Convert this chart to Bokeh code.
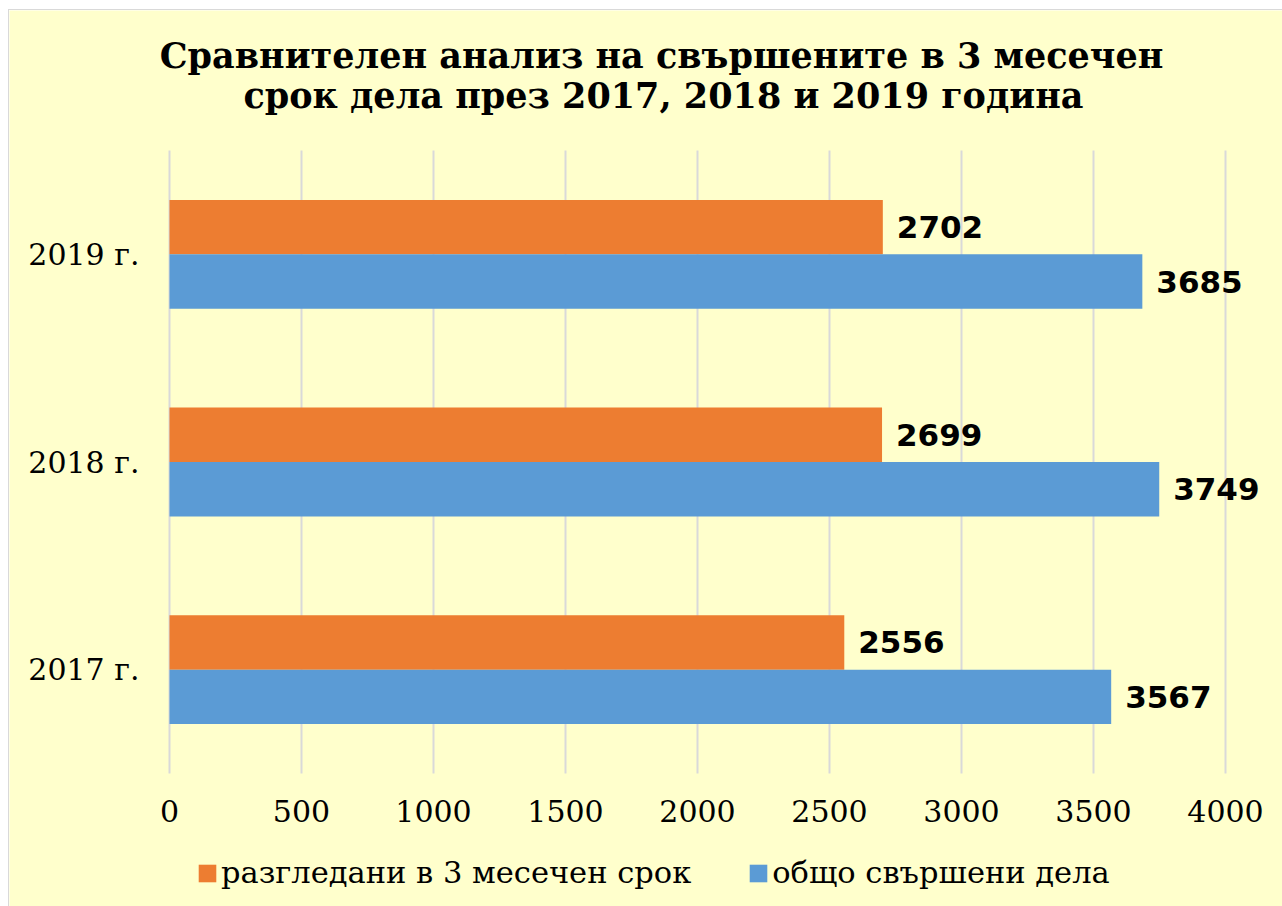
from bokeh.plotting import figure
from bokeh.models import ColumnDataSource, Range1d, FixedTicker, LabelSet, Label, Legend, LegendItem
from bokeh.transform import dodge
from bokeh.core.properties import value
from bokeh.embed import file_html
from bokeh.resources import INLINE

# ---- data ----
years = ["2017 г.", "2018 г.", "2019 г."]
reviewed = [2556, 2699, 2702]
completed = [3567, 3749, 3685]
series_labels = ["разгледани в 3 месечен срок", "общо свършени дела"]
x_ticks = [0, 500, 1000, 1500, 2000, 2500, 3000, 3500, 4000]
title_lines = ["Сравнителен анализ на свършените в 3 месечен",
               "срок дела през 2017, 2018 и 2019 година"]

ORANGE = "#ED7D31"
BLUE = "#5B9BD5"
BG = "#FFFFCC"
GRID = "#D9D9D9"
SERIF = "DejaVu Serif"

# ---- layout (page pixels) ----
PAGE_W, PAGE_H = 1282, 906
OX, OY = 9, 10                 # where the chart area starts on the page
W, H = PAGE_W - OX, PAGE_H - OY
PLOT_L = 169                   # x pixel of value 0
AXIS_END_PX = 1225             # x pixel of the last tick
PLOT_T, PLOT_B = 150, 773      # vertical extent of the bar area

n = len(years)
pos = list(range(n))
x_max = max(x_ticks)
ppx = (AXIS_END_PX - PLOT_L) / x_max
ppy = (PLOT_B - PLOT_T) / n
y_lo_band, y_hi_band = -0.5, n - 0.5


def px_to_x(px):
    return (px - PLOT_L) / ppx


def px_to_y(py):
    return y_hi_band - (py - PLOT_T) / ppy


src = ColumnDataSource(dict(
    pos=pos,
    reviewed=reviewed,
    completed=completed,
    rlab=[str(v) for v in reviewed],
    clab=[str(v) for v in completed],
))
grid_src = ColumnDataSource(dict(x=x_ticks, y0=[y_lo_band] * len(x_ticks),
                                 y1=[y_hi_band] * len(x_ticks)))

p = figure(width=W, height=H, output_backend="svg", toolbar_location=None,
           title_location=None,
           x_range=Range1d(px_to_x(OX), px_to_x(PAGE_W)),
           y_range=Range1d(px_to_y(PAGE_H), px_to_y(OY)),
           min_border_left=0, min_border_right=0,
           min_border_top=0, min_border_bottom=0)
p.styles = {"margin-left": f"{OX}px", "margin-top": f"{OY}px",
            "outline": f"1px solid {GRID}"}

p.background_fill_color = BG
p.border_fill_color = BG
p.outline_line_color = None

# vertical gridlines limited to the bar area
p.segment(x0="x", y0="y0", x1="x", y1="y1", source=grid_src,
          line_color=GRID, line_width=2)
p.xgrid.grid_line_color = None
p.ygrid.grid_line_color = None

bar_h = 0.262
r1 = p.hbar(y=dodge("pos", bar_h / 2), left=0, right="reviewed", height=bar_h,
            source=src, fill_color=ORANGE, line_color=None)
r2 = p.hbar(y=dodge("pos", -bar_h / 2), left=0, right="completed", height=bar_h,
            source=src, fill_color=BLUE, line_color=None)

for col, lab, off in (("reviewed", "rlab", bar_h / 2), ("completed", "clab", -bar_h / 2)):
    p.add_layout(LabelSet(x=col, y=dodge("pos", off), text=lab, source=src,
                          x_offset=14, text_baseline="middle", text_align="left",
                          text_font=value("DejaVu Sans"), text_font_style="bold",
                          text_font_size="31px", text_color="black"))

# title (two centred lines)
for line, cx, base in ((title_lines[0], 661, 55), (title_lines[1], 663, 95)):
    p.add_layout(Label(x=px_to_x(cx), y=px_to_y(base), text=line,
                       text_align="center", text_baseline="alphabetic",
                       text_font=SERIF, text_font_style="bold",
                       text_font_size="35px", text_color="black"))

# x axis drawn at the bottom of the bar area
p.xaxis.fixed_location = y_lo_band
p.xaxis.ticker = FixedTicker(ticks=x_ticks)
p.xaxis.axis_line_color = None
p.xaxis.major_tick_line_color = None
p.xaxis.minor_tick_line_color = None
p.xaxis.major_label_standoff = 20
p.xaxis.major_label_text_font = SERIF
p.xaxis.major_label_text_font_size = "30px"
p.xaxis.major_label_text_color = "black"

# y axis drawn at value 0
p.yaxis.fixed_location = 0
p.yaxis.ticker = FixedTicker(ticks=pos)
p.yaxis.major_label_overrides = {i: y for i, y in zip(pos, years)}
p.yaxis.axis_line_color = None
p.yaxis.major_tick_line_color = None
p.yaxis.minor_tick_line_color = None
p.yaxis.major_label_standoff = 24
p.yaxis.major_label_text_font = SERIF
p.yaxis.major_label_text_font_size = "30px"
p.yaxis.major_label_text_color = "black"

legend = Legend(items=[LegendItem(label=series_labels[0], renderers=[r1]),
                       LegendItem(label=series_labels[1], renderers=[r2])],
                orientation="horizontal", location=(PLOT_L - OX + 27, 16),
                glyph_width=22, glyph_height=22, label_standoff=3, spacing=56,
                padding=0, margin=0, background_fill_alpha=0, border_line_color=None,
                label_text_font=SERIF, label_text_font_size="30.5px",
                label_text_color="black")
p.add_layout(legend)

open("out.html", "w").write(file_html(p, INLINE))
